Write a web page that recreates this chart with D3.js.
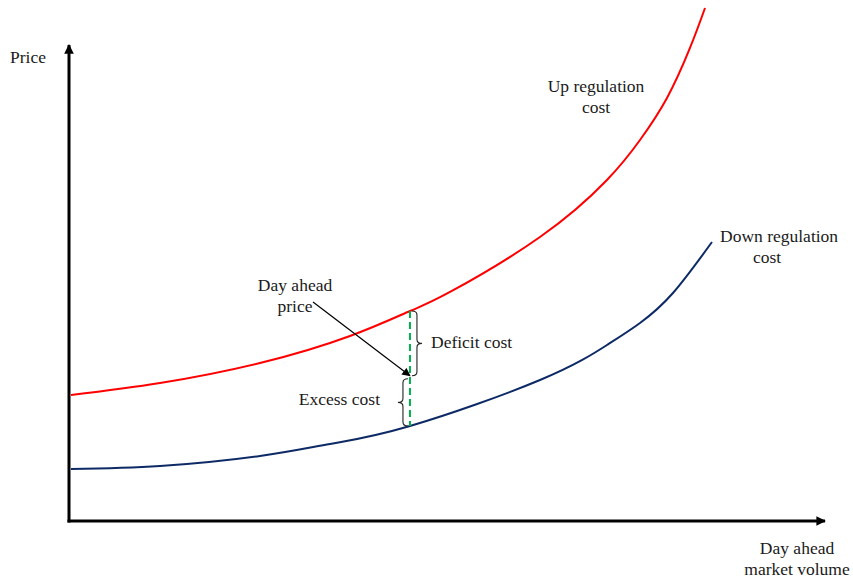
<!DOCTYPE html>
<html><head><meta charset="utf-8">
<script src="https://cdn.jsdelivr.net/npm/d3@7"></script>
<style>
html,body{margin:0;padding:0;background:#fff;}
text{font-family:"Liberation Serif","Times New Roman",serif;fill:#1a1a1a;}
</style></head>
<body>
<svg id="chart" width="853" height="584"></svg>
<script>
// Data (volume 0-100, price 0-100 on the axes)
const upVolume   = [0.26, 12.04, 25.26, 37.17, 45.11, 50.40, 62.30, 71.16, 75.53, 79.10, 82.14, 84.13];
const upPrice    = [26.47, 28.99, 33.19, 38.87, 44.12, 48.11, 59.66, 71.64, 80.04, 88.87, 99.37, 107.77];
const downVolume = [0.26, 12.04, 25.26, 34.52, 45.11, 62.30, 71.16, 75.53, 79.89, 85.05];
const downPrice  = [10.92, 11.55, 13.66, 16.18, 19.96, 29.62, 36.97, 41.60, 47.90, 58.61];
const dayAheadVolume = 45.1;
const dayAheadPrice = 30.5;
const labels = {
  yAxis: ["Price"], xAxis: ["Day ahead", "market volume"],
  up: ["Up regulation", "cost"], down: ["Down regulation", "cost"],
  dap: ["Day ahead", "price"], deficit: ["Deficit cost"], excess: ["Excess cost"]
};

const svg = d3.select("#chart");
const x = d3.scaleLinear().domain([0, 100]).range([69, 825]);
const y = d3.scaleLinear().domain([0, 100]).range([521, 45]);

const defs = svg.append("defs");
defs.append("marker").attr("id","axArrow").attr("viewBox","0 0 10 10").attr("refX",9).attr("refY",5)
  .attr("markerWidth",3.2).attr("markerHeight",3.2).attr("markerUnits","strokeWidth").attr("orient","auto")
  .append("path").attr("d","M0,0 L10,5 L0,10 Z").attr("fill","#000");
defs.append("marker").attr("id","ptArrow").attr("viewBox","0 0 10 10").attr("refX",9).attr("refY",5)
  .attr("markerWidth",8).attr("markerHeight",7).attr("markerUnits","strokeWidth").attr("orient","auto")
  .append("path").attr("d","M0,0 L10,5 L0,10 Z").attr("fill","#000");

// Curves
const line = d3.line().x(d => x(d[0])).y(d => y(d[1])).curve(d3.curveNatural);
svg.append("path").datum(upVolume.map((v,i)=>[v, upPrice[i]]))
  .attr("d", line).attr("fill","none").attr("stroke","#ff0000").attr("stroke-width",2);
svg.append("path").datum(downVolume.map((v,i)=>[v, downPrice[i]]))
  .attr("d", line).attr("fill","none").attr("stroke","#0d2a66").attr("stroke-width",2);

// Axes (no ticks)
const xAxis = d3.axisBottom(x).tickValues([]).tickSizeOuter(0);
const yAxis = d3.axisLeft(y).tickValues([]).tickSizeOuter(0);
const gx = svg.append("g").attr("transform",`translate(0,${y(0)})`).call(xAxis);
gx.select(".domain").attr("stroke","#000").attr("stroke-width",3).attr("d",`M${x(0)-1.5},0H${x(100)}`).attr("marker-end","url(#axArrow)");
const gy = svg.append("g").attr("transform",`translate(${x(0)},0)`).call(yAxis);
gy.select(".domain").attr("stroke","#000").attr("stroke-width",3).attr("d",`M0,${y(0)+1.5}V${y(100)}`).attr("marker-end","url(#axArrow)");

// Curve values at day-ahead volume
const upAt = d3.scaleLinear().domain(upVolume).range(upPrice)(dayAheadVolume);
const downAt = d3.scaleLinear().domain(downVolume).range(downPrice)(dayAheadVolume);
const px = x(dayAheadVolume);

// Green dashed line
svg.append("line").attr("x1",px).attr("x2",px).attr("y1",y(upAt)).attr("y2",y(downAt))
  .attr("stroke","#00b050").attr("stroke-width",2).attr("stroke-dasharray","7,4");

// Braces
function brace(x0, ya, yb, dir, w) {
  const ym = (ya+yb)/2, r = w/2;
  const xc = x0 + dir*r, xt = x0 + dir*w;
  return `M${x0},${ya} Q${xc},${ya} ${xc},${ya+4} L${xc},${ym-4} Q${xc},${ym} ${xt},${ym}`+
         ` Q${xc},${ym} ${xc},${ym+4} L${xc},${yb-4} Q${xc},${yb} ${x0},${yb}`;
}
svg.append("path").attr("d", brace(px+2, y(upAt), y(dayAheadPrice), 1, 10))
  .attr("fill","none").attr("stroke","#222").attr("stroke-width",1.1);
svg.append("path").attr("d", brace(px-2, y(dayAheadPrice)+3, y(downAt), -1, 10))
  .attr("fill","none").attr("stroke","#222").attr("stroke-width",1.1);

// Day ahead price arrow
svg.append("line").attr("x1",313).attr("y1",302).attr("x2",px).attr("y2",y(dayAheadPrice))
  .attr("stroke","#000").attr("stroke-width",1.2).attr("marker-end","url(#ptArrow)");

// Texts
const fs = 17.5;
function label(s, cx, cy, anchor) {
  svg.append("text").attr("text-anchor",anchor).attr("font-size",fs).attr("x",cx).attr("y",cy).text(s);
}
label(labels.yAxis[0], 10, 63, "start");
label(labels.xAxis[0], 797, 554, "middle");
label(labels.xAxis[1], 797, 575, "middle");
label(labels.up[0], 596, 92, "middle");
label(labels.up[1], 596, 113, "middle");
label(labels.down[0], 720, 242, "start");
label(labels.down[1], 767, 263, "middle");
label(labels.dap[0], 295, 291, "middle");
label(labels.dap[1], 295, 312, "middle");
label(labels.deficit[0], 431, 348, "start");
label(labels.excess[0], 380, 405, "end");
</script>
</body></html>
